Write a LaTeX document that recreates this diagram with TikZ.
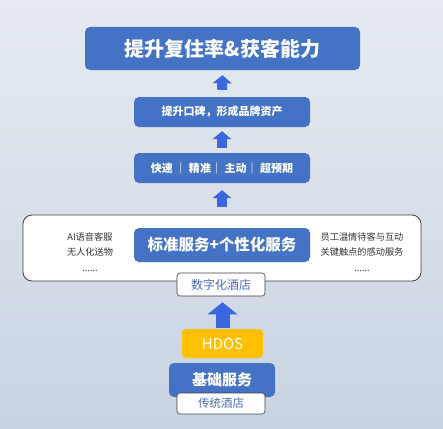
\documentclass[tikz,border=0pt]{standalone}
\usepackage{fontspec}
\setmainfont{Noto Sans CJK SC}
\usetikzlibrary{arrows.meta}
\definecolor{boxblue}{HTML}{4472C4}
\definecolor{arrowblue}{HTML}{3A66E0}
\definecolor{hdosyellow}{HTML}{FFC000}
\definecolor{labelblue}{HTML}{4A6CC0}
\definecolor{bgtop}{HTML}{E6EBF1}
\definecolor{bgbottom}{HTML}{C8D3E1}
\tikzset{
	bluebox/.style={fill=boxblue, text=white, rounded corners=5pt, inner sep=0pt, font=\bfseries},
	whitelabel/.style={fill=white, draw=black!75, line width=0.6pt, rounded corners=3pt, text=labelblue, inner sep=0pt, font=\fontsize{11.5}{13}\selectfont},
	sidetext/.style={align=center, text=black!80, font=\fontsize{9.2}{15.5}\selectfont},
	uparrow/.style={arrowblue, line width=10pt, -{Triangle[width=19pt, length=8pt, line width=0pt]}},
	bigarrow/.style={arrowblue, line width=14pt, -{Triangle[width=30pt, length=12pt, line width=0pt]}}
}

\begin{document}
\begin{tikzpicture}[x=1pt, y=-1pt]
	\shade[top color=bgtop, bottom color=bgbottom] (0,0) rectangle (443,428);
	\useasboundingbox (0,0) rectangle (443,428);
	% top of the stack
	\node[bluebox, minimum width=275pt, minimum height=43pt, font=\fontsize{20}{22}\selectfont\bfseries] (goal) at (222.5,48.5) {提升复住率\&获客能力};
	\node[bluebox, minimum width=176pt, minimum height=30pt, font=\fontsize{11}{13}\selectfont\bfseries] (brand) at (222,112) {提升口碑，形成品牌资产};
	\node[bluebox, minimum width=176pt, minimum height=30pt, font=\fontsize{11}{13}\selectfont\bfseries] (traits) at (222,168) {快速 ｜ 精准｜ 主动｜ 超预期};
	% digital hotel
	\node[fill=white, draw=black!75, line width=0.8pt, rounded corners=9pt, minimum width=398pt, minimum height=66pt, inner sep=0pt] (panel) at (222,248) {};
	\node[bluebox, minimum width=176pt, minimum height=34pt, font=\fontsize{15.5}{18}\selectfont\bfseries] (service) at (222,245) {标准服务+个性化服务};
	\node[sidetext] (left) at (90,252) {AI语音客服\\无人化送物\\......};
	\node[sidetext] (right) at (362,252) {员工温情待客与互动\\关键触点的感动服务\\......};
	\node[whitelabel, minimum width=88pt, minimum height=23pt, font=\fontsize{12}{14}\selectfont] (digital) at (221,284.5) {数字化酒店};
	% traditional hotel
	\node[fill=hdosyellow, text=white, rounded corners=4pt, minimum width=81pt, minimum height=29pt, inner sep=0pt, font=\fontsize{15}{17}\selectfont] (hdos) at (222.5,343.5) {HDOS};
	\node[bluebox, minimum width=106pt, minimum height=34pt, font=\fontsize{15}{17}\selectfont\bfseries] (base) at (222,380) {基础服务};
	\node[whitelabel, minimum width=88pt, minimum height=21pt] (trad) at (221,403.5) {传统酒店};
	% arrows
	\draw[uparrow, shorten <=7pt, shorten >=5pt] (brand.north) -- (goal.south);
	\draw[uparrow, shorten <=5pt, shorten >=4pt] (traits.north) -- (brand.south);
	\draw[uparrow, shorten <=8pt, shorten >=7pt] (panel.north -| traits.south) -- (traits.south);
	\draw[bigarrow, shorten <=1pt, shorten >=6pt] (hdos.north) -- (hdos.north |- digital.south);
\end{tikzpicture}
\end{document}
